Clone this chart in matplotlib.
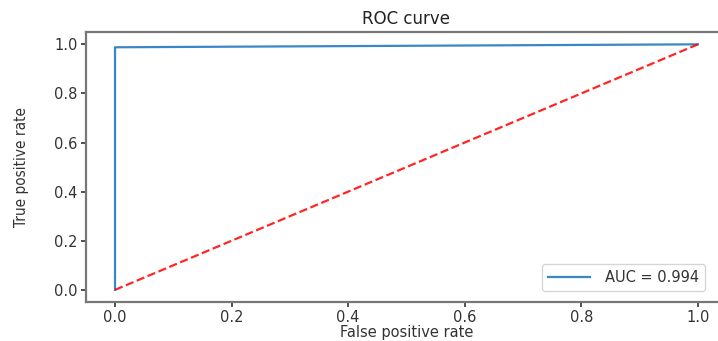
import matplotlib
matplotlib.use("Agg")
import matplotlib.pyplot as plt
import numpy as np

# ROC points
fpr = [0.0, 0.0, 1.0]
tpr = [0.0, 0.988, 1.0]
auc_val = 0.994
diag = [0.0, 1.0]

fig = plt.figure(figsize=(7.18, 3.41), dpi=100)
# axes runs past the right edge, like the cropped original
ax = fig.add_axes([0.1196, 0.114, 0.893, 0.792])

ax.plot(fpr, tpr, color='#3a87c8', lw=1.6, label='AUC = %0.3f' % auc_val)
ax.plot(diag, diag, 'r--', lw=1.6, alpha=0.85)

ax.set_title('ROC curve', fontsize=12, color='#222222')
ax.set_xlabel('False positive rate', fontsize=10.5, color='#333333')
ax.set_ylabel('True positive rate', fontsize=11, color='#333333', stretch='condensed')
ax.xaxis.set_label_coords(0.5, -0.085)
ax.yaxis.set_label_coords(-0.088, 0.5)
ax.tick_params(labelsize=10.5, colors='#333333', width=1.2, pad=2.5)
for s in ax.spines.values():
    s.set_color('#777777')
    s.set_linewidth(1.6)
ax.spines['right'].set_visible(False)

ax.legend(loc='lower right', fontsize=10.5, handlelength=2.9, handletextpad=1.0,
          borderpad=0.4, bbox_to_anchor=(0.992, 0.126),
          bbox_transform=fig.transFigure, labelcolor='#333333')

fig.savefig('out.png', dpi=100)
